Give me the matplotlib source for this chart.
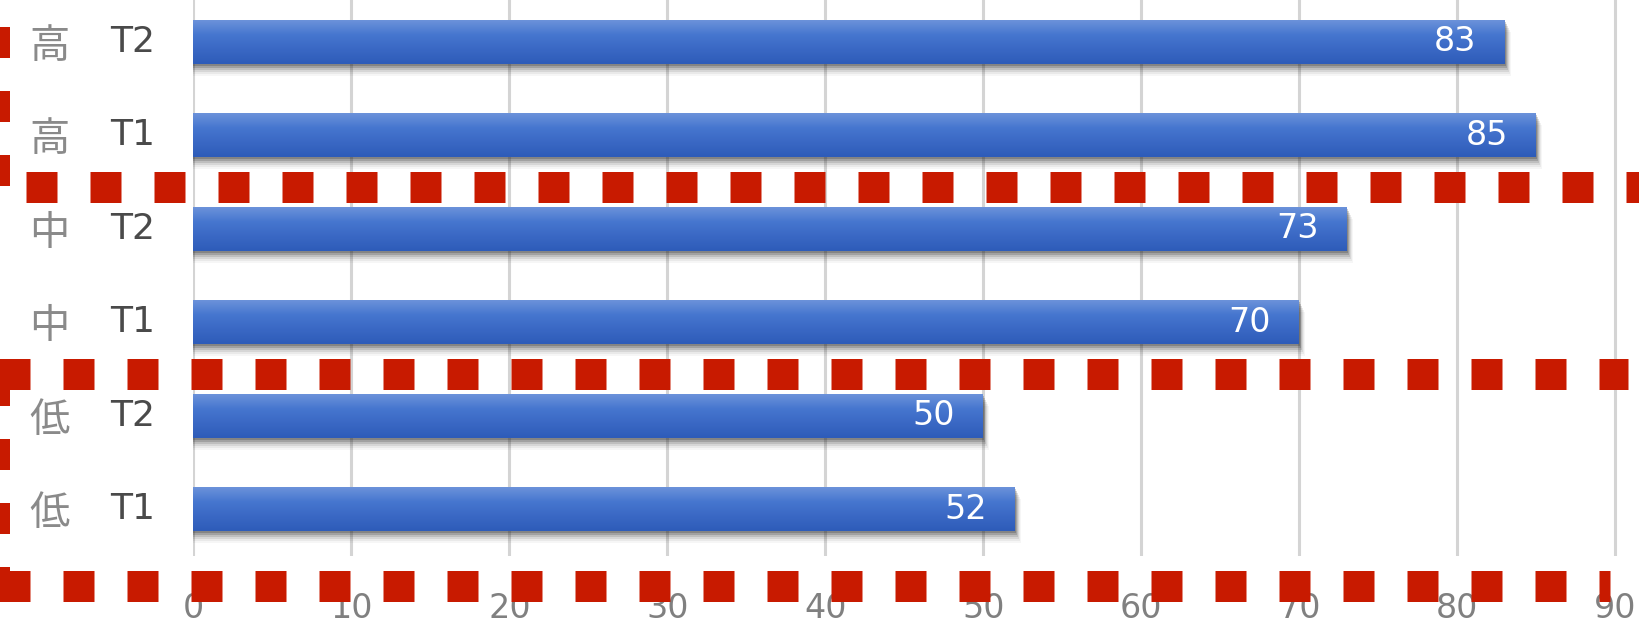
import numpy as np
import matplotlib
matplotlib.use("Agg")
import matplotlib.pyplot as plt
from matplotlib.colors import LinearSegmentedColormap
from matplotlib.transforms import blended_transform_factory
from matplotlib.lines import Line2D

# data (bottom to top)
groups = ["低", "低", "中", "中", "高", "高"]
times = ["T1", "T2", "T1", "T2", "T1", "T2"]
scores = [52, 50, 70, 73, 85, 83]
xticks = [0, 10, 20, 30, 40, 50, 60, 70, 80, 90]

plt.rcParams['font.family'] = ['Noto Sans CJK JP', 'DejaVu Sans']

W, H = 1639, 635
fig = plt.figure(figsize=(W / 100, H / 100), dpi=100)
ax = fig.add_axes([193.4 / W, (H - 556) / H, 1 - 193.4 / W, 556 / H])

ypos = np.arange(len(scores))
bh = 0.47
blue = LinearSegmentedColormap.from_list("bl", ["#6b92da", "#4676cf", "#3a68c4", "#2e5cb9"])
grad = np.linspace(0, 1, 64).reshape(-1, 1)

px_x = 91.5 / (W - 193.4)
px_y = 1 / 93.5

for y, v in zip(ypos, scores):
    # soft shadow
    for k, a in [(12, 0.04), (10, 0.06), (8, 0.09), (6, 0.13), (4, 0.18), (2, 0.22)]:
        ax.barh(y - k * px_y, v + k * 0.5 * px_x, height=bh, left=0,
                color="#202020", alpha=a, linewidth=0, zorder=2)
    bar = ax.barh(y, v, height=bh, color="#3d6fcc", linewidth=0, zorder=3)[0]
    im = ax.imshow(grad, cmap=blue, aspect="auto", origin="upper",
                   extent=[0, v, y - bh / 2, y + bh / 2], zorder=4)
    im.set_clip_path(bar)
    ax.text(v - 1.8, y, str(v), color="white", fontsize=24, ha="right",
            va="center", zorder=6, family="DejaVu Sans")

ax.set_xlim(0, 91.5)
ax.set_ylim(-0.5, 5.447)
ax.set_xticks(xticks)
ax.set_yticks([])
ax.grid(axis="x", color="#d4d4d4", linewidth=2.2, zorder=0)
ax.set_axisbelow(True)
for s in ax.spines.values():
    s.set_visible(False)
ax.tick_params(axis="x", length=0, pad=26, labelsize=24, labelcolor="#808080")
for lbl in ax.get_xticklabels():
    lbl.set_family("DejaVu Sans")

# category labels
lab_tr = blended_transform_factory(fig.transFigure, ax.transData)
for y, g, t in zip(ypos, groups, times):
    ax.text(49 / W, y - 0.05, g, transform=lab_tr, color="#8a8a8a", fontsize=29,
            ha="center", va="center")
    ax.text(133 / W, y, t, transform=lab_tr, color="#4a4a4a", fontsize=26,
            ha="center", va="center", family="DejaVu Sans")

# red dotted guides
red = "#c81a00"

def guide(xs, ys, width_px=31):
    on = 31 / width_px
    off = 33 / width_px
    ln = Line2D(xs, ys, transform=lab_tr, color=red, linewidth=width_px * 0.72,
                dashes=(on, off), solid_capstyle="butt", dash_capstyle="butt",
                clip_on=False, zorder=10)
    fig.add_artist(ln)

y1, y2, y3 = 3.45, 1.45, -0.82
guide([26 / W, 1.02], [y1, y1])
guide([-4.4 / W, 1628 / W], [y2, y2])
guide([-22 / W, 1610 / W], [y3, y3])
# left edge, mostly cut off
guide([5 / W, 5 / W], [y1 + 0.01, 6.5], width_px=10)
guide([5 / W, 5 / W], [y2 - 0.01, y3 - 0.17], width_px=10)

fig.savefig("out.png", dpi=100)
